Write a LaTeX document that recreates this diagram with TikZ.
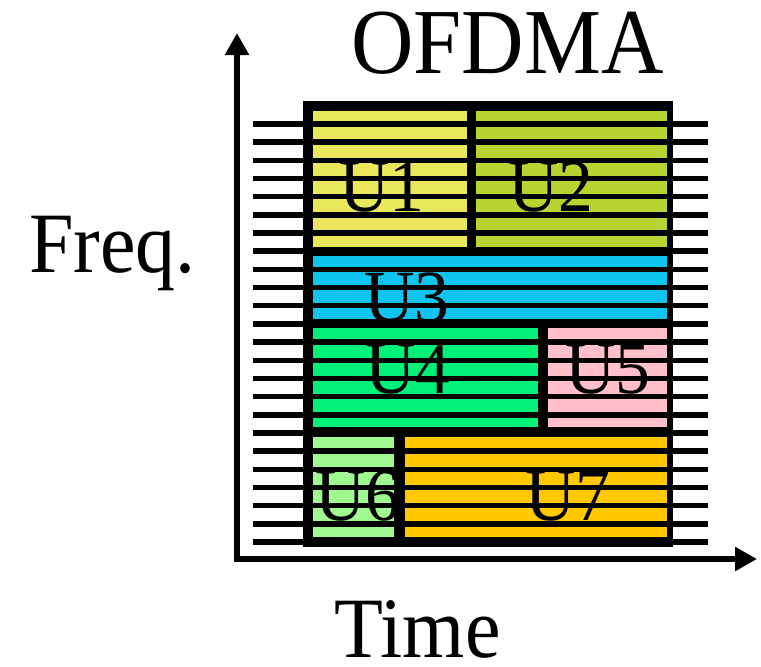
\documentclass[tikz,border=0pt]{standalone}
\usepackage{fontspec}
\setmainfont{Liberation Serif}
\usetikzlibrary{arrows.meta}
\definecolor{cUone}{RGB}{232,232,90}
\definecolor{cUtwo}{RGB}{185,212,48}
\definecolor{cUthree}{RGB}{16,196,240}
\definecolor{cUfour}{RGB}{0,240,120}
\definecolor{cUfive}{RGB}{255,192,203}
\definecolor{cUsix}{RGB}{160,248,144}
\definecolor{cUseven}{RGB}{255,200,0}
\begin{document}
\begin{tikzpicture}[x=1pt,y=-1pt,
  userlabel/.style={font=\fontsize{75pt}{75pt}\selectfont, anchor=base, inner sep=0pt, xscale=0.93},
  axislabel/.style={font=\fontsize{86pt}{86pt}\selectfont, anchor=base, inner sep=0pt, text depth=0pt, xscale=0.93},
  subcarrier/.style={line width=5.5pt, black},
  axisline/.style={line width=5.5pt, line join=miter,
    {Triangle[length=22pt,width=23pt]}-{Triangle[length=22pt,width=23pt]}}]
\useasboundingbox (0,0) rectangle (761,667);
\fill[white] (0,0) rectangle (761,667);

% resource grid frame
\fill[black] (303,101) rectangle (673,547);

% user allocations
\fill[cUone]   (313,111) rectangle (467,247);
\fill[cUtwo]   (476,111) rectangle (667,247);
\fill[cUthree] (313,256) rectangle (667,319);
\fill[cUfour]  (313,328) rectangle (538,427);
\fill[cUfive]  (548,328) rectangle (667,427);
\fill[cUsix]   (313,437) rectangle (394,537);
\fill[cUseven] (405,437) rectangle (667,537);

% user labels
\node[userlabel] (l1) at (382,211) {U1};
\node[userlabel] (l2) at (551,211) {U2};
\begin{scope}
  \clip (313,256) rectangle (667,319);
  \node[userlabel] (l3) at (407,322) {U3};
\end{scope}
\node[userlabel] (l4) at (408,393) {U4};
\node[userlabel] (l5) at (608,393) {U5};
\begin{scope}
  \clip (313,437) rectangle (394,537);
  \node[userlabel] (l6) at (358,520) {U6};
\end{scope}
\node[userlabel] (l7) at (568,520) {U7};

% subcarriers
\foreach \i in {0,...,23}
  \draw[subcarrier] (253,{124+18.174*\i}) -- (708,{124+18.174*\i});

% axes
\coordinate (origin) at (237,559);
\coordinate (ftop) at (237,33);
\coordinate (tend) at (757,559);
\draw[axisline] (ftop) -- (origin) -- (tend);

% titles
\node[font=\fontsize{93pt}{93pt}\selectfont, anchor=base, inner sep=0pt, xscale=0.93] (title) at (507.5,73) {OFDMA};
\node[axislabel] (freq) at (112.5,272) {Freq.};
\node[axislabel] (time) at (417.5,657) {Time};
\end{tikzpicture}
\end{document}
